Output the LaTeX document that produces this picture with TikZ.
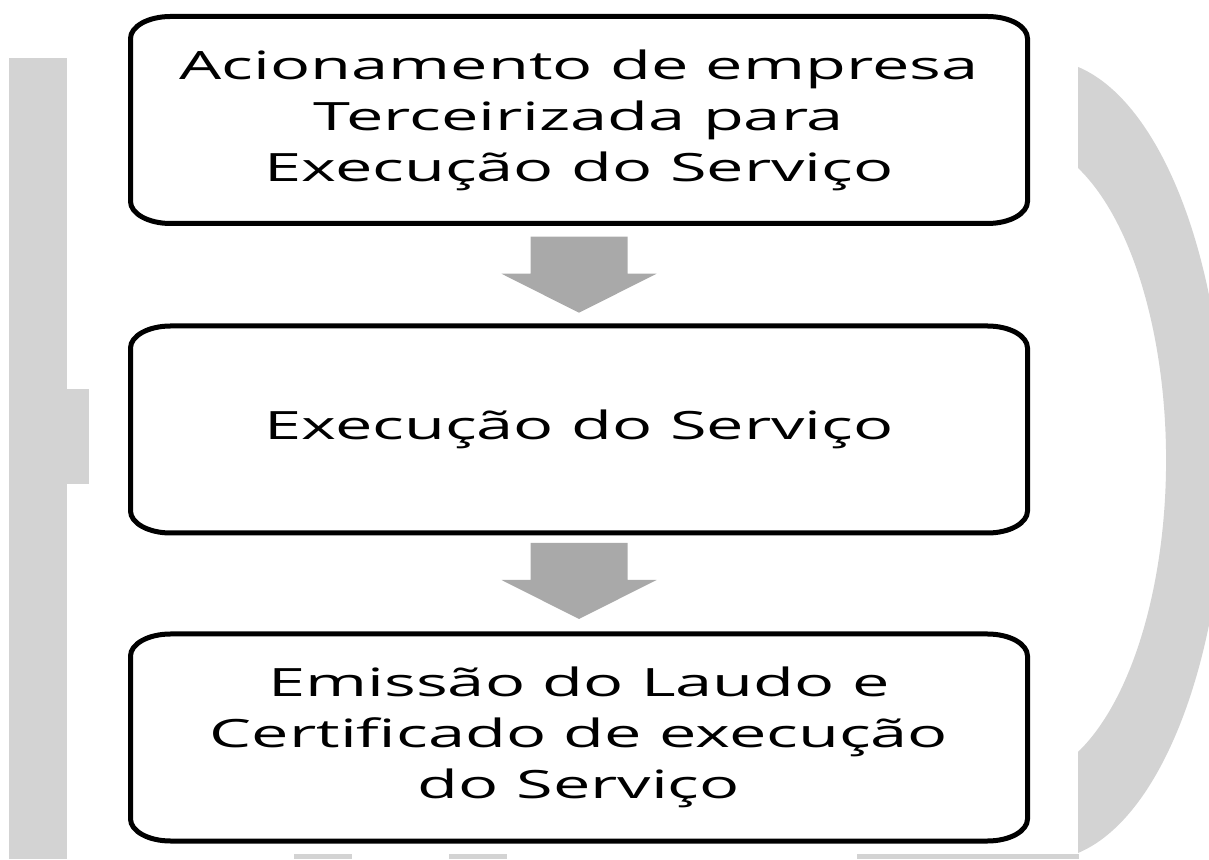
\documentclass[tikz,border=0pt]{standalone}
\usepackage{fontspec}
\newfontfamily\boxfont[FakeStretch=1.71]{Open Sans}
\definecolor{bggray}{HTML}{D3D3D3}
\definecolor{arrowgray}{HTML}{A9A9A9}
\newcommand\ellbox[1]{%
  \draw[boxline] ([xshift=40pt]#1.north west) -- ([xshift=-40pt]#1.north east)
    arc[start angle=90,end angle=0,x radius=40pt,y radius=22pt]
    -- ([yshift=22pt]#1.south east)
    arc[start angle=0,end angle=-90,x radius=40pt,y radius=22pt]
    -- ([xshift=40pt]#1.south west)
    arc[start angle=270,end angle=180,x radius=40pt,y radius=22pt]
    -- ([yshift=-22pt]#1.north west)
    arc[start angle=180,end angle=90,x radius=40pt,y radius=22pt] -- cycle;}
\newcommand\blockarrow[1]{%
  \fill[flowarrow] ([shift={(-48.5,38)}]#1) -- ([shift={(48.5,38)}]#1)
    -- ([shift={(48.5,1)}]#1) -- ([shift={(77.5,1)}]#1)
    -- ([shift={(0,-38)}]#1) -- ([shift={(-77.5,1)}]#1)
    -- ([shift={(-48.5,1)}]#1) -- cycle;}
\begin{document}
\begin{tikzpicture}[x=1pt,y=1pt,
  boxline/.style={line width=5pt, draw=black},
  stage/.style={minimum width=897pt, minimum height=207pt, inner sep=0pt,
    outer sep=0pt, align=center, text=black,
    font=\boxfont\fontsize{39}{51}\selectfont},
  flowarrow/.style={fill=arrowgray},
  backdrop/.style={fill=bggray}]
\useasboundingbox (0,0) rectangle (1209,859);
% background shapes
\fill[backdrop] (9,0) rectangle (67,801);
\fill[backdrop] (66,375) rectangle (89,470);
\fill[backdrop] (294,0) rectangle (352,5);
\fill[backdrop] (449,0) rectangle (507,5);
\fill[backdrop] (857,0) rectangle (1079,5);
\fill[backdrop] (1078,792) -- (1078,691)
  arc[start angle=65.85,end angle=-65.85,x radius=149,y radius=320]
  -- (1078,6)
  arc[start angle=-79.3,end angle=79.3,x radius=180.6,y radius=400] -- cycle;
% stages
\node[stage] (b1) at (579,739) {Acionamento de empresa\\Terceirizada para\\Execução do Serviço};
\node[stage] (b2) at (579,429.5) {Execução do Serviço};
\node[stage] (b3) at (579,121.5) {Emissão do Laudo e\\Certificado de execução\\do Serviço};
\ellbox{b1}
\ellbox{b2}
\ellbox{b3}
% arrows
\path (b1.south) -- (b2.north) coordinate[midway] (m1);
\path (b2.south) -- (b3.north) coordinate[midway,yshift=2.5pt] (m2);
\blockarrow{m1}
\blockarrow{m2}
\end{tikzpicture}
\end{document}
